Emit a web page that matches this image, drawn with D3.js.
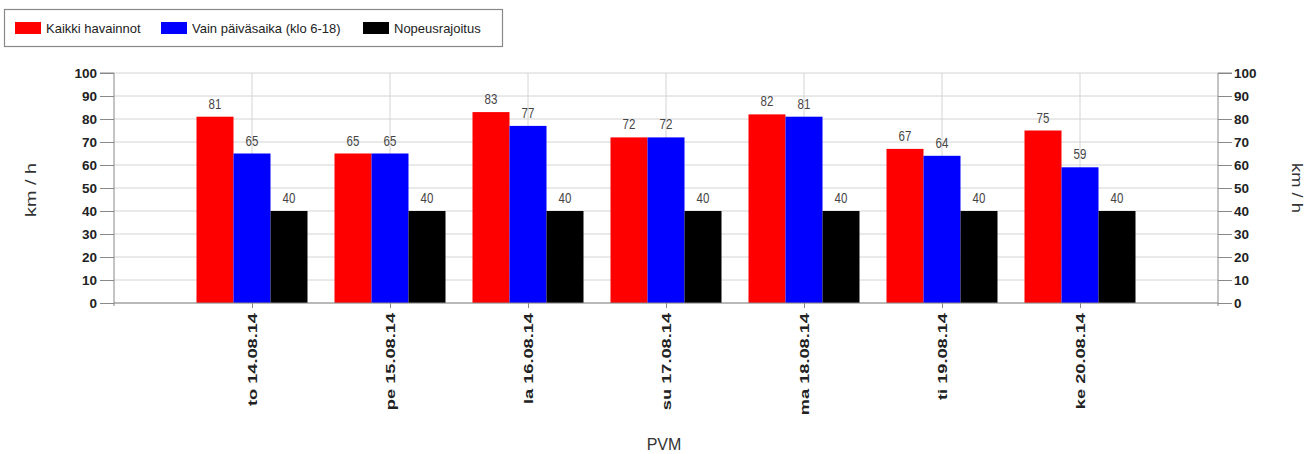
<!DOCTYPE html>
<html><head><meta charset="utf-8">
<script src="https://cdn.jsdelivr.net/npm/d3@7"></script>
<style>
body{margin:0;background:#fff;}
svg{display:block;font-family:"Liberation Sans",Arial,sans-serif;}
</style></head>
<body><svg id="c" width="1311" height="454"></svg>
<script>
const categories = ["to 14.08.14","pe 15.08.14","la 16.08.14","su 17.08.14","ma 18.08.14","ti 19.08.14","ke 20.08.14"];
const seriesNames = ["Kaikki havainnot","Vain päiväsaika (klo 6-18)","Nopeusrajoitus"];
const kaikki = [81,65,83,72,82,67,75];
const paiva = [65,65,77,72,81,64,59];
const raja = [40,40,40,40,40,40,40];
const colors = ["#ff0000","#0000ff","#000000"];
const yTicks = [0,10,20,30,40,50,60,70,80,90,100];

const series = [kaikki, paiva, raja];
const svg = d3.select("#c");
const L = 114, R = 1218, T = 73, B = 303;

const x = d3.scalePoint().domain(categories).range([L, R]).padding(1);
const y = d3.scaleLinear().domain([0,100]).range([B, T]);
const bw = 37;
const sub = d3.scaleBand().domain(d3.range(series.length)).range([-bw*1.5, bw*1.5]).padding(0);

// grid
const g = svg.append("g");
g.selectAll(".hg").data(yTicks).join("line")
  .attr("x1", L).attr("x2", R).attr("y1", d=>y(d)).attr("y2", d=>y(d))
  .attr("stroke", "#d4d4d4").attr("stroke-width", 1);
g.selectAll(".vg").data(categories).join("line")
  .attr("x1", d=>x(d)).attr("x2", d=>x(d)).attr("y1", T).attr("y2", B)
  .attr("stroke", "#d4d4d4").attr("stroke-width", 1);

// bars
series.forEach((s, si) => {
  svg.append("g").selectAll("rect").data(s).join("rect")
    .attr("x", (d,i)=> x(categories[i]) + sub(si))
    .attr("width", sub.bandwidth())
    .attr("y", d=>y(d)).attr("height", d=>B - y(d))
    .attr("fill", colors[si]);
  svg.append("g").selectAll("text").data(s).join("text")
    .attr("transform", (d,i)=> `translate(${x(categories[i]) + sub(si) + sub.bandwidth()/2},${y(d) - 8}) scale(1,1.25)`)
    .attr("text-anchor","middle")
    .attr("font-size", 11.5).attr("fill","#444")
    .text(d=>d);
});

// axes
const axL = d3.axisLeft(y).tickValues(yTicks).tickSize(14).tickPadding(3);
const axR = d3.axisRight(y).tickValues(yTicks).tickSize(14).tickPadding(2);
const axB = d3.axisBottom(x).tickSize(5).tickPadding(6);
function style(sel){
  sel.select(".domain").attr("stroke","#888");
  sel.selectAll(".tick line").attr("stroke","#888");
  sel.selectAll(".tick text").attr("font-size",13.5).attr("font-weight","bold").attr("fill","#222")
    .attr("font-family","'Liberation Sans',Arial,sans-serif");
}
const gl = svg.append("g").attr("transform",`translate(${L},0)`).call(axL).call(style);
gl.select(".domain").attr("d", `M-14,${T}H0V${B+3}`);
const gr = svg.append("g").attr("transform",`translate(${R},0)`).call(axR).call(style);
gr.select(".domain").attr("d", `M14,${T}H0V${B+3}`);
const gb = svg.append("g").attr("transform",`translate(0,${B})`).call(axB).call(style);
gb.select(".domain").attr("d", `M${L},0H${R}`);
gb.selectAll(".tick text")
  .attr("transform","translate(0,10) rotate(-90) scale(1.35,1)")
  .attr("text-anchor","end")
  .attr("x", 0).attr("y", 0).attr("dy","0.35em")
  .attr("font-size", 13.5);

// axis titles
svg.append("text").attr("transform",`translate(36,190) rotate(-90)`)
  .attr("text-anchor","middle").attr("font-size",14).attr("fill","#333")
  .attr("textLength",54).attr("lengthAdjust","spacingAndGlyphs").text("km / h");
svg.append("text").attr("transform",`translate(1292,188) rotate(90)`)
  .attr("text-anchor","middle").attr("font-size",14).attr("fill","#333")
  .attr("textLength",50).attr("lengthAdjust","spacingAndGlyphs").text("km / h");
svg.append("text").attr("x",664).attr("y",450)
  .attr("text-anchor","middle").attr("font-size",16).attr("fill","#333").text("PVM");

// legend
const lg = svg.append("g");
lg.append("rect").attr("x",4.5).attr("y",9.5).attr("width",498).attr("height",37)
  .attr("fill","#fff").attr("stroke","#888").attr("stroke-width",1.2);
const lx = [15, 161, 363];
seriesNames.forEach((n,i)=>{
  lg.append("rect").attr("x",lx[i]).attr("y",22).attr("width",26).attr("height",12).attr("fill",colors[i]);
  lg.append("text").attr("x",lx[i]+31).attr("y",32.5).attr("font-size",13).attr("fill","#222").text(n);
});
</script></body></html>
